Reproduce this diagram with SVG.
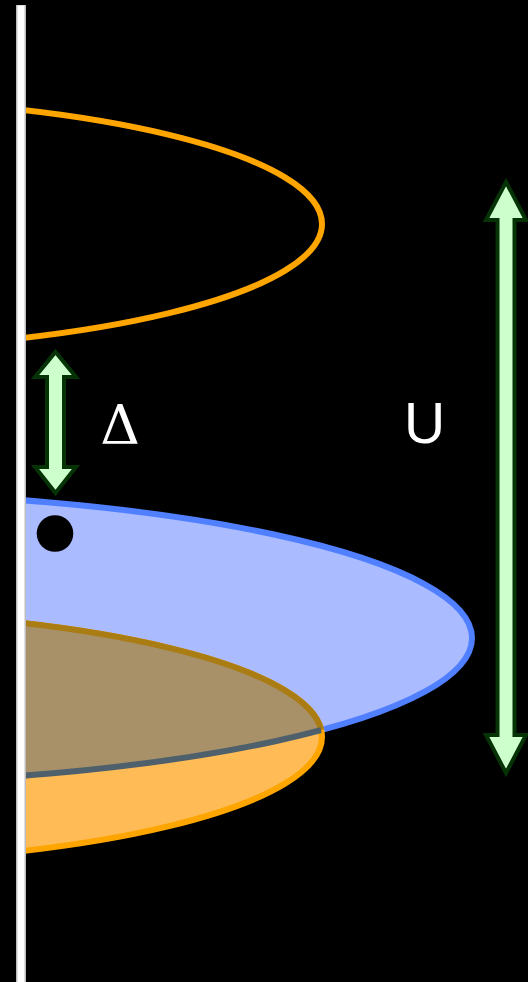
<svg xmlns="http://www.w3.org/2000/svg" width="528" height="982" viewBox="0 0 528 982">
  <style>
    .ell { stroke-width: 6; }
    .arrow { fill: #ccffcc; stroke: #063306; stroke-width: 4; stroke-linejoin: miter; stroke-miterlimit: 10; }
    .lbl { fill: #ffffff; }
  </style>
  <defs>
    <clipPath id="right"><rect x="21" y="0" width="507" height="982"/></clipPath>
    <clipPath id="blueIn"><ellipse cx="-200" cy="638" rx="672" ry="146"/></clipPath>
    <clipPath id="orangeIn"><ellipse cx="-200" cy="737" rx="522" ry="126"/></clipPath>
  </defs>
  <rect x="0" y="0" width="528" height="982" fill="#000000"/>

  <g clip-path="url(#right)">
    <g id="orange-top">
      <ellipse class="ell" cx="-200" cy="224" rx="522" ry="126" fill="none" stroke="#ffa500"/>
    </g>
    <g id="blue-region">
      <ellipse class="ell" cx="-200" cy="638" rx="672" ry="146" fill="#aabbff" stroke="#5080ff"/>
    </g>
    <g id="orange-region">
      <ellipse class="ell" cx="-200" cy="737" rx="522" ry="126" fill="#ffbb55" stroke="#ffa500"/>
      <g clip-path="url(#blueIn)">
        <ellipse class="ell" cx="-200" cy="737" rx="522" ry="126" fill="#a89068" stroke="#aa7c14"/>
      </g>
      <g clip-path="url(#orangeIn)">
        <ellipse class="ell" cx="-200" cy="638" rx="672" ry="146" fill="none" stroke="#4e606c"/>
      </g>
    </g>
  </g>

  <g id="axis">
    <line x1="21" y1="5" x2="21" y2="982" stroke="#bdbdbd" stroke-width="10"/>
    <line x1="21" y1="5.5" x2="21" y2="982" stroke="#ffffff" stroke-width="7"/>
  </g>

  <g id="dot">
    <circle cx="55" cy="533.5" r="18.3" fill="#000000"/>
  </g>

  <g id="connectors">
    <g id="delta-arrow">
      <polygon class="arrow" points="55.5,352 76,377 64,377 64,467 76,467 55.5,493 35,467 47,467 47,377 35,377"/>
    </g>
    <g id="u-arrow">
      <polygon class="arrow" points="506,182 526,220 514.5,220 514.5,735 526,735 506,773 486,735 497.5,735 497.5,220 486,220"/>
    </g>
  </g>

  <g id="label-delta">
    <text class="lbl" x="120" y="444" font-family="'DejaVu Serif', 'Liberation Serif', serif" font-size="55" text-anchor="middle">Δ</text>
  </g>
  <g id="label-u">
    <text class="lbl" x="424.5" y="443" font-family="'Liberation Sans', Arial, sans-serif" font-size="57" text-anchor="middle">U</text>
  </g>
</svg>
